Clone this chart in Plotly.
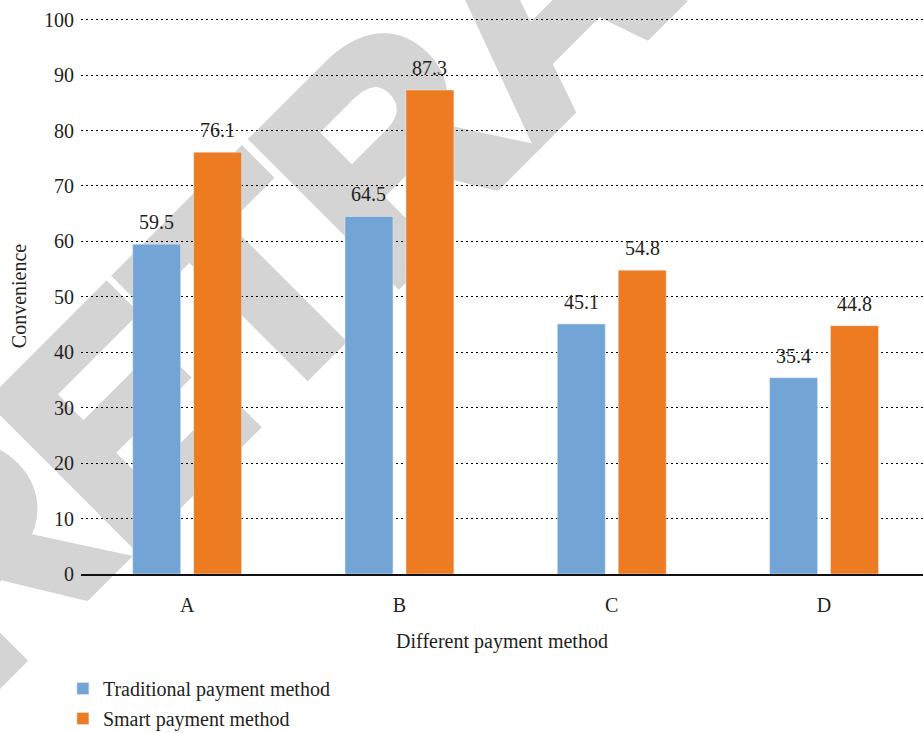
import base64
import plotly.graph_objects as go

categories = ["A", "B", "C", "D"]
traditional = [59.5, 64.5, 45.1, 35.4]
smart = [76.1, 87.3, 54.8, 44.8]
y_ticks = [0, 10, 20, 30, 40, 50, 60, 70, 80, 90, 100]
series_names = ["Traditional payment method", "Smart payment method"]

BLUE = "#72A5D6"
ORANGE = "#EC7B22"
TXT = "#231F20"
FONT = "Liberation Serif"
FS = 20

W, H = 923, 733
ML, MR, MT, MB = 81, 0, 18, 159
BARGAP = 0.426
GROUPGAP = 0.213

# watermark as background image (drawn beneath gridlines and bars)
svg = f'''<svg xmlns="http://www.w3.org/2000/svg" width="{W}" height="{H}" viewBox="0 0 {W} {H}">
<text x="-25" y="704" transform="rotate(-45 -25 704)" font-family="Liberation Sans" font-weight="bold"
 font-size="290" fill="#D4D4D4" stroke="#D4D4D4" stroke-width="14" stroke-linejoin="miter">RETRACTED</text>
</svg>'''
src = "data:image/svg+xml;base64," + base64.b64encode(svg.encode()).decode()

fig = go.Figure()
fig.add_trace(go.Bar(
    x=categories, y=traditional, name=series_names[0], marker_color=BLUE,
    legendgroup="t",
))
fig.add_trace(go.Bar(
    x=categories, y=smart, name=series_names[1], marker_color=ORANGE,
    legendgroup="s",
))

# value labels placed via the category axis (numeric positions of categories)
half = (1 - BARGAP) / 4
annotations = []
for i, v in enumerate(traditional):
    annotations.append(dict(x=i - half, y=v, xref="x", yref="y", text=f"{v:.1f}",
                            showarrow=False, yanchor="bottom", yshift=9,
                            font=dict(family=FONT, size=FS, color=TXT)))
for i, v in enumerate(smart):
    annotations.append(dict(x=i + half, y=v, xref="x", yref="y", text=f"{v:.1f}",
                            showarrow=False, yanchor="bottom", yshift=9,
                            font=dict(family=FONT, size=FS, color=TXT)))

fig.update_layout(
    width=W, height=H,
    margin=dict(l=ML, r=MR, t=MT, b=MB),
    paper_bgcolor="rgba(0,0,0,0)",
    plot_bgcolor="rgba(0,0,0,0)",
    font=dict(family=FONT, size=FS, color=TXT),
    barmode="group", bargap=BARGAP, bargroupgap=GROUPGAP,
    showlegend=True,
    legend=dict(
        orientation="v", x=-0.0215, xanchor="left",
        yref="container", y=1 - 669 / H, yanchor="top",
        font=dict(family=FONT, size=FS, color=TXT), tracegroupgap=1,
        bgcolor="rgba(0,0,0,0)",
    ),
    annotations=annotations,
    images=[dict(source=src, xref="paper", yref="paper",
                 x=-ML / (W - ML - MR), y=1 + MT / (H - MT - MB),
                 sizex=W / (W - ML - MR), sizey=H / (H - MT - MB),
                 xanchor="left", yanchor="top", sizing="stretch", layer="below")],
)
fig.update_yaxes(
    range=[0, 100.3], tickvals=y_ticks, showgrid=True, gridcolor="#000000",
    gridwidth=1, griddash="2px,3px", zeroline=False, showline=False,
    ticks="", ticklabelstandoff=6,
    tickfont=dict(family=FONT, size=FS, color=TXT),
    title=dict(text="Convenience", font=dict(family=FONT, size=FS, color=TXT), standoff=12),
    automargin=False,
)
fig.update_xaxes(
    range=[-0.5, 3.466],
    showline=True, linecolor="#111111", linewidth=2, showgrid=False,
    ticks="", ticklabelstandoff=12,
    tickfont=dict(family=FONT, size=FS, color=TXT),
    title=dict(text="Different payment method", font=dict(family=FONT, size=FS, color=TXT), standoff=19),
    automargin=False,
)

fig.write_html(
    "out.html",
    config={"displayModeBar": False},
    post_script="document.body.style.margin='0';document.body.style.overflow='hidden';",
)
